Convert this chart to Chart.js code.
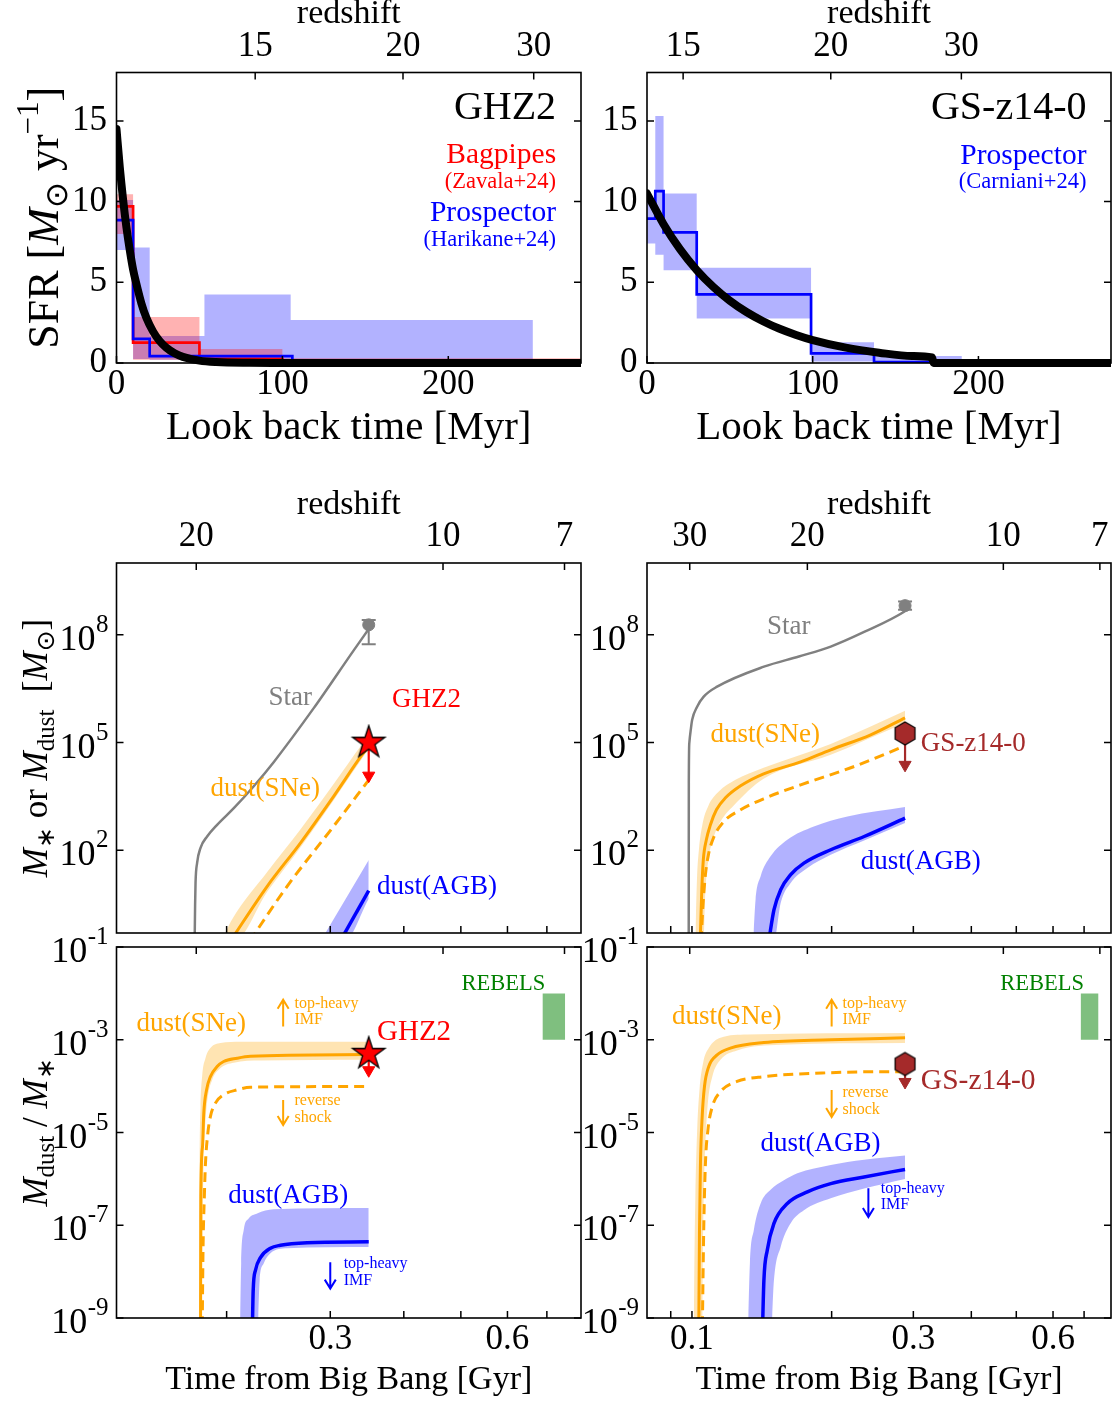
<!DOCTYPE html>
<html><head><meta charset="utf-8"><title>SFH and dust evolution of GHZ2 and GS-z14-0</title>
<script src="https://cdn.jsdelivr.net/npm/chart.js@4.4.1/dist/chart.umd.min.js"></script>
<style>
html,body{margin:0;padding:0;background:#fff;}
body{width:1117px;height:1403px;position:relative;overflow:hidden;}
canvas{position:absolute;}
</style></head><body>
<canvas id="cTL" width="600" height="460" style="left:0px;top:0px;width:600px;height:460px"></canvas>
<canvas id="cTR" width="537" height="460" style="left:580px;top:0px;width:537px;height:460px"></canvas>
<canvas id="cML" width="600" height="480" style="left:0px;top:470px;width:600px;height:480px"></canvas>
<canvas id="cMR" width="537" height="480" style="left:580px;top:470px;width:537px;height:480px"></canvas>
<canvas id="cBL" width="600" height="503" style="left:0px;top:900px;width:600px;height:503px"></canvas>
<canvas id="cBR" width="537" height="503" style="left:580px;top:900px;width:537px;height:503px"></canvas>
<script>
// ===================== DATA =====================
// --- top panels: star-formation histories (look-back time [Myr], SFR [Msun/yr]) ---
const sfrTimeTicks = [0, 100, 200];
const sfrTimeLabels = ['0', '100', '200'];
const sfrTicks = [0, 5, 10, 15];
const sfrTickLabels = ['0', '5', '10', '15'];
const zLabelsSfr = ['15', '20', '30'];
const zTimesGhz2 = [83.6, 172.7, 251.5];
const zTimesGs = [21.8, 110.9, 189.7];

const ghz2ModelT   = [0, 2, 4, 6, 8, 10, 12, 15, 18, 22, 26, 30, 35, 40, 50, 60, 80, 100, 150, 200, 280];
const ghz2ModelSfr = [14.5, 12.1, 10.1, 8.4, 7.0, 5.8, 4.9, 3.7, 2.8, 1.96, 1.36, 0.95, 0.6, 0.38, 0.15, 0.06, 0.01, 0, 0, 0, 0];

const bagEdges = [0, 10, 50, 100, 280];
const bagLow   = [8.0, 0.2, 0, 0];
const bagHigh  = [10.45, 2.85, 0.87, 0.3];
const bagStepEdges = [0, 10, 50, 100, 280];
const bagStepSfr   = [9.7, 1.26, 0.25, 0.1];

const hariEdges = [0, 10, 20, 53, 105, 251];
const hariLow   = [7.0, 0.25, 0.2, 0.2, 0.1];
const hariHigh  = [10.1, 7.16, 1.67, 4.25, 2.66];
const hariStepEdges = [0, 10, 20, 106, 280];
const hariStepSfr   = [8.85, 1.5, 0.43, 0.03];

const gsModelT   = [0, 10, 20, 30, 40, 50, 60, 70, 80, 90, 100, 120, 140, 160, 172, 173, 280];
const gsModelSfr = [10.5, 8.6, 7.04, 5.76, 4.72, 3.86, 3.16, 2.59, 2.12, 1.74, 1.42, 0.95, 0.64, 0.43, 0.34, 0, 0];

const carnEdges = [0, 5, 10, 30, 99, 137, 190];
const carnLow   = [7.4, 6.7, 5.75, 2.75, 0.1, 0];
const carnHigh  = [10.0, 15.3, 10.5, 5.9, 1.28, 0.43];
const carnStepEdges = [0, 5, 10, 30, 99, 137, 280];
const carnStepSfr   = [8.95, 10.65, 8.1, 4.25, 0.6, 0.05];

// --- middle/bottom axes ---
const gyrTicks  = [0.09, 0.1, 0.2, 0.3, 0.4, 0.5, 0.6, 0.7];
const gyrLabels = ['', '0.1', '', '0.3', '', '', '0.6', ''];
const zTimesLeft  = [0.1776, 0.4663, 0.750];
const zLabelsLeft = ['20', '10', '7'];
const zTimesRight  = [0.0989, 0.1773, 0.4689, 0.757];
const zLabelsRight = ['30', '20', '10', '7'];
const massTicks = [1e2, 1e5, 1e8];
const massExps  = ['2', '5', '8'];
const ratioTicks = [1e-1, 1e-3, 1e-5, 1e-7, 1e-9];
const ratioExps  = ['-1', '-3', '-5', '-7', '-9'];

// --- GHZ2 masses (time [Gyr], mass [Msun]) ---
const ghz2StarT = [0.1765, 0.1768, 0.1771, 0.1782, 0.1806, 0.1853, 0.1927, 0.2057, 0.2224, 0.2404, 0.2812, 0.3288, 0.3487];
const ghz2StarM = [0.3, 3, 12.5, 45, 118, 243, 515, 1490, 6100, 2.85e4, 9.1e5, 3.7e7, 1.45e8];
const ghz2SneT = [0.2030, 0.2344, 0.2669, 0.3040, 0.3398, 0.3487];
const ghz2SneM = [0.3, 10, 160, 3200, 4.6e4, 8e4];
const ghz2SneHiT = [0.1960, 0.2044, 0.2344, 0.2669, 0.3040, 0.3398, 0.3487];
const ghz2SneHiM = [0.3, 1.2, 25, 380, 7000, 9e4, 1.5e5];
const ghz2SneLoT = [0.1960, 0.2060, 0.2344, 0.2669, 0.3040, 0.3398, 0.3487];
const ghz2SneLoM = [0.3, 0.3, 7, 120, 2500, 3.6e4, 6.5e4];
const ghz2RsT = [0.2190, 0.2534, 0.3040, 0.3487];
const ghz2RsM = [0.3, 10, 470, 9100];
const ghz2AgbT = [0.3120, 0.3487];
const ghz2AgbM = [0.3, 7.6];
const ghz2AgbHiT = [0.2890, 0.3487];
const ghz2AgbHiM = [0.3, 54];
const ghz2AgbLoT = [0.2890, 0.3170, 0.3487];
const ghz2AgbLoM = [0.3, 0.3, 4.5];

// --- GS-z14-0 masses ---
const gsStarT = [0.09840, 0.09845, 0.0987, 0.0995, 0.1001, 0.1026, 0.1060, 0.1133, 0.1429, 0.1700, 0.1991, 0.2350, 0.2866, 0.2879];
const gsStarM = [0.3, 7600, 9.8e4, 2.5e5, 4.3e5, 1e6, 1.9e6, 3.6e6, 1.3e7, 2.5e7, 4.7e7, 1.2e8, 4.4e8, 4.6e8];
const gsSneT = [0.1042, 0.1050, 0.1058, 0.1074, 0.1096, 0.1129, 0.1181, 0.1273, 0.1427, 0.1715, 0.1991, 0.2428, 0.2879];
const gsSneM = [0.3, 8, 55, 197, 515, 1345, 2900, 6270, 1.35e4, 2.9e4, 6.3e4, 1.65e5, 4.9e5];
const gsSneHiT = [0.1017, 0.1025, 0.1035, 0.1053, 0.1085, 0.1141, 0.1241, 0.1427, 0.1991, 0.2879];
const gsSneHiM = [0.3, 15, 104, 515, 1740, 4270, 9200, 1.99e4, 9.2e4, 7.7e5];
const gsSneLoT = [0.1017, 0.1058, 0.1069, 0.1085, 0.1113, 0.1152, 0.1229, 0.1427, 0.1991, 0.2879];
const gsSneLoM = [0.3, 0.3, 8, 55, 224, 624, 1740, 9800, 4.57e4, 3.56e5];
const gsRsT = [0.1046, 0.1058, 0.1069, 0.1085, 0.1113, 0.1170, 0.1273, 0.1427, 0.1715, 0.2199, 0.2879];
const gsRsM = [0.3, 4.2, 21, 75, 224, 624, 1345, 2730, 6680, 1.99e4, 8.1e4];
const gsAgbT = [0.1464, 0.1502, 0.1553, 0.1632, 0.1743, 0.1991, 0.2350, 0.2879];
const gsAgbM = [0.3, 2.2, 8, 21, 44, 104, 243, 790];
const gsAgbHiT = [0.1355, 0.1371, 0.1406, 0.1477, 0.1605, 0.1831, 0.2163, 0.2879];
const gsAgbHiM = [0.3, 4.2, 19, 68, 197, 462, 877, 1600];
const gsAgbLoT = [0.1355, 0.1502, 0.1553, 0.1632, 0.1773, 0.1991, 0.2350, 0.2879];
const gsAgbLoM = [0.3, 0.3, 3.4, 12.3, 32, 75, 188, 574];

// --- GHZ2 dust-to-stellar mass ratio ---
const ghz2SneRT = [0.1806, 0.1807, 0.1808, 0.1820, 0.1829, 0.1849, 0.1877, 0.1927, 0.1977, 0.2084, 0.2195, 0.3487];
const ghz2SneR  = [3e-10, 1.5e-8, 4.1e-7, 4.9e-6, 2.6e-5, 8.3e-5, 1.6e-4, 2.65e-4, 3.4e-4, 4.0e-4, 4.4e-4, 4.8e-4];
const ghz2SneRHiT = [0.1794, 0.1797, 0.1799, 0.1806, 0.1817, 0.1841, 0.1877, 0.1953, 0.2113, 0.3487];
const ghz2SneRHi  = [3e-10, 7.8e-8, 2.1e-6, 3.6e-5, 1.6e-4, 4.0e-4, 6.6e-4, 8.5e-4, 9.1e-4, 9.1e-4];
const ghz2SneRLoT = [0.1794, 0.1808, 0.1820, 0.1827, 0.1840, 0.1858, 0.1890, 0.1953, 0.2057, 0.2283, 0.3487];
const ghz2SneRLo  = [3e-10, 3e-10, 7.8e-8, 2.1e-6, 1.6e-5, 5.9e-5, 1.36e-4, 2.45e-4, 3.2e-4, 3.55e-4, 3.7e-4];
const ghz2RsRT = [0.1817, 0.1824, 0.1833, 0.1841, 0.1858, 0.1877, 0.1914, 0.1977, 0.2084, 0.2195, 0.3487];
const ghz2RsR  = [3e-10, 3.4e-8, 4.1e-7, 2.1e-6, 9.5e-6, 2.2e-5, 4.3e-5, 6.5e-5, 8.3e-5, 9.5e-5, 9.8e-5];
const ghz2AgbRT = [0.2210, 0.2219, 0.2239, 0.2283, 0.2374, 0.2468, 0.2740, 0.3487];
const ghz2AgbR  = [3e-10, 3.9e-9, 1.07e-8, 2e-8, 3.2e-8, 3.7e-8, 4.2e-8, 4.4e-8];
const ghz2AgbRHiT = [0.2106, 0.2117, 0.2138, 0.2180, 0.2253, 0.2404, 0.3487];
const ghz2AgbRHi  = [3e-10, 1.5e-8, 7.8e-8, 1.4e-7, 1.8e-7, 2.2e-7, 2.35e-7];
const ghz2AgbRLoT = [0.2106, 0.2253, 0.2276, 0.2312, 0.2374, 0.2534, 0.3487];
const ghz2AgbRLo  = [3e-10, 3e-10, 6.5e-9, 1.5e-8, 2.5e-8, 3.2e-8, 3.4e-8];

// --- GS-z14-0 dust-to-stellar mass ratio ---
const gsSneRT = [0.1034, 0.1038, 0.1043, 0.1052, 0.1064, 0.1087, 0.1133, 0.1210, 0.1429, 0.1991, 0.2879];
const gsSneR  = [3e-10, 7.8e-8, 2.1e-6, 2.2e-5, 9.8e-5, 2.65e-4, 4.7e-4, 6.6e-4, 8.7e-4, 1e-3, 1.1e-3];
const gsSneRHiT = [0.1009, 0.1012, 0.1017, 0.1026, 0.1038, 0.1057, 0.1087, 0.1152, 0.1315, 0.2879];
const gsSneRHi  = [3e-10, 1.5e-8, 4.1e-7, 1.1e-5, 8.3e-5, 3.2e-4, 6.6e-4, 1.1e-3, 1.29e-3, 1.4e-3];
const gsSneRLoT = [0.1009, 0.1052, 0.1055, 0.1060, 0.1069, 0.1082, 0.1106, 0.1152, 0.1251, 0.1553, 0.2879];
const gsSneRLo  = [3e-10, 3e-10, 1.5e-8, 4.1e-7, 5.9e-6, 4.3e-5, 1.6e-4, 3.7e-4, 5.9e-4, 7.8e-4, 8.5e-4];
const gsRsRT = [0.1052, 0.1060, 0.1069, 0.1082, 0.1106, 0.1152, 0.1251, 0.1429, 0.1991, 0.2773, 0.2879];
const gsRsR  = [3e-10, 7.8e-8, 2.1e-6, 1.1e-5, 3.6e-5, 7.6e-5, 1.26e-4, 1.6e-4, 1.95e-4, 2.05e-4, 2.05e-4];
const gsAgbRT = [0.1417, 0.1429, 0.1453, 0.1502, 0.1605, 0.1773, 0.1991, 0.2350, 0.2879];
const gsAgbR  = [3e-10, 6.5e-9, 2.9e-8, 1.1e-7, 2.95e-7, 5.25e-7, 7.9e-7, 1.1e-6, 1.6e-6];
const gsAgbRHiT = [0.1319, 0.1333, 0.1359, 0.1406, 0.1477, 0.1578, 0.1687, 0.1991, 0.2350, 0.2879];
const gsAgbRHi  = [3e-10, 1.5e-8, 7.8e-8, 2.95e-7, 5.8e-7, 9.3e-7, 1.32e-6, 2e-6, 2.6e-6, 3.2e-6];
const gsAgbRLoT = [0.1319, 0.1477, 0.1502, 0.1553, 0.1632, 0.1743, 0.1991, 0.2350, 0.2879];
const gsAgbRLo  = [3e-10, 3e-10, 6.5e-9, 3.4e-8, 1.1e-7, 2.1e-7, 3.8e-7, 6.2e-7, 1.0e-6];

// --- observations ---
const ghz2ObsT = [0.3487];
const ghz2StarObs = [1.9e8];
const ghz2StarErr = [5.5e7, 2.6e8];
const ghz2DustLim = [1e5, 1.2e4];
const ghz2RatioLim = [5e-4, 2.2e-4];
const gsObsT = [0.2879];
const gsStarObs = [6.5e8];
const gsStarErr = [5e8, 8.5e8];
const gsDustLim = [1.8e5, 2.4e4];
const gsRatioLim = [3e-4, 1.23e-4];
const rebelsT = [0.688, 0.752];
const rebelsRatio = [1e-3, 1e-2];

// ===================== STYLE / HELPERS =====================
const SERIF = "'Liberation Serif','Times New Roman',Times,serif";
const ORANGE = '#ffa500', BLUE = '#0000ff', RED = '#ff0000', GRAY = '#808080', BROWN = '#a52a2a', GREEN = '#008000';
const ORANGE_BAND = 'rgba(255,165,0,0.3)', BLUE_BAND = 'rgba(0,0,255,0.3)', RED_BAND = 'rgba(255,0,0,0.3)', GREEN_BOX = 'rgba(0,128,0,0.5)';
Chart.defaults.font.family = SERIF;
Chart.defaults.color = '#000';

const P = (xs, ys) => xs.map((x, i) => ({x: x, y: ys[i]}));
function base(o) {
  return Object.assign({xAxisID: 'x', yAxisID: 'y', pointRadius: 0, pointHoverRadius: 0, borderWidth: 0,
    borderColor: 'rgba(0,0,0,0)', backgroundColor: 'rgba(0,0,0,0)', fill: false, clip: 0}, o);
}
function curve(xs, ys, color, w, extra) {
  return base(Object.assign({data: P(xs, ys), borderColor: color, borderWidth: w, cubicInterpolationMode: 'monotone', order: 4}, extra || {}));
}
function band(hx, hy, lx, ly, color, order) {
  return [
    base({data: P(hx, hy), backgroundColor: color, fill: '+1', cubicInterpolationMode: 'monotone', order: order || 9}),
    base({data: P(lx, ly), cubicInterpolationMode: 'monotone', order: order || 9})
  ];
}
function box(xr, yr, color, order) {
  return [
    base({data: P(xr, [yr[1], yr[1]]), backgroundColor: color, fill: '+1', order: order}),
    base({data: P(xr, [yr[0], yr[0]]), order: order})
  ];
}
function stepLine(edges, vals, color, w, order) {
  return base({data: P(edges, vals.concat([vals[vals.length - 1]])), stepped: 'before', borderColor: color, borderWidth: w, order: order});
}
function stepBand(edges, lo, hi, color, order) {
  return [
    base({data: P(edges, hi.concat([hi[hi.length - 1]])), stepped: 'before', backgroundColor: color, fill: '+1', order: order}),
    base({data: P(edges, lo.concat([lo[lo.length - 1]])), stepped: 'before', order: order})
  ];
}
function marker(t, v, style, extra) {
  return base(Object.assign({data: P(t, v), showLine: false, pointStyle: style, pointRadius: 10, order: 0}, extra || {}));
}
function errBar(t, lohi, color) {
  return base({data: P([t[0], t[0]], lohi), borderColor: color, borderWidth: 2, pointStyle: 'line', pointRadius: 7,
    pointBorderColor: color, pointBorderWidth: 2, order: 3});
}
function limitArrow(t, lim, color) {
  return [
    base({data: P([t[0], t[0]], lim), borderColor: color, borderWidth: 2.2, order: 2}),
    base({data: P(t, [lim[1]]), showLine: false, pointStyle: 'triangle', pointRotation: 180, pointRadius: 7,
      pointBackgroundColor: color, pointBorderColor: color, pointBorderWidth: 1, order: 2})
  ];
}
function starImg(R, fill) {
  const c = document.createElement('canvas'); const s = Math.ceil(2 * R + 4); c.width = s; c.height = s;
  const g = c.getContext('2d'); g.translate(s / 2, s / 2); g.beginPath();
  for (let k = 0; k < 10; k++) { const r = (k % 2) ? R * 0.382 : R; const a = -Math.PI / 2 + k * Math.PI / 5; g.lineTo(r * Math.cos(a), r * Math.sin(a)); }
  g.closePath(); g.fillStyle = fill; g.fill(); g.lineWidth = 1.3; g.strokeStyle = '#000'; g.stroke();
  return c;
}
function hexImg(R, fill) {
  const c = document.createElement('canvas'); const s = Math.ceil(2 * R + 4); c.width = s; c.height = s;
  const g = c.getContext('2d'); g.translate(s / 2, s / 2); g.beginPath();
  for (let k = 0; k < 6; k++) { const a = -Math.PI / 2 + k * Math.PI / 3; g.lineTo(R * Math.cos(a), R * Math.sin(a)); }
  g.closePath(); g.fillStyle = fill; g.fill(); g.lineWidth = 1.2; g.strokeStyle = '#000'; g.stroke();
  return c;
}
const STAR = starImg(17, RED);
const HEX = hexImg(11.5, BROWN);

function axisX(o) {
  return {
    type: o.type, position: o.position, min: o.min, max: o.max,
    grid: {display: false, drawTicks: false, tickLength: 0}, border: {display: false},
    afterFit: function (s) { s.height = o.height; },
    afterBuildTicks: function (s) { s.ticks = o.ticks.filter(v => v >= o.min && v <= o.max).map(v => ({value: v})); },
    ticks: {display: !!o.labels, autoSkip: false, maxRotation: 0, minRotation: 0, padding: o.labelPad || 0,
      font: {size: o.labelSize || 35, family: SERIF}, color: '#000',
      callback: function (v) { if (!o.labels) return ''; const i = o.ticks.indexOf(v); return i >= 0 ? o.labels[i] : ''; }},
    title: o.title ? {display: true, text: o.title, color: '#000', font: {size: o.titleSize, family: SERIF, lineHeight: 0.8},
      padding: o.position === 'top' ? {top: o.titlePad, bottom: 0} : {top: 0, bottom: o.titlePad}} : {display: false}
  };
}
function axisY(o) {
  return {
    type: o.type, position: 'left', min: o.min, max: o.max,
    grid: {display: false, drawTicks: false, tickLength: 0}, border: {display: false},
    afterFit: function (s) { s.width = o.width; },
    afterBuildTicks: function (s) { s.ticks = o.ticks.map(v => ({value: v})); },
    ticks: {display: !!o.labels, autoSkip: false, padding: o.labelPad || 0, font: {size: 35, family: SERIF}, color: '#000',
      callback: function (v) { if (!o.labels) return ''; const i = o.ticks.indexOf(v); return i >= 0 ? o.labels[i] : ''; }},
    title: {display: false}
  };
}

// ---------- decoration plugin (frame, inward ticks, log labels, rich titles, annotations) ----------
const DECO = {};
function richTitle(ctx, runs, bx, cy, size) {
  const fontOf = r => (r.it ? 'italic ' : '') + Math.round((r.sc || 1) * size) + 'px ' + (r.fam || SERIF);
  ctx.save(); ctx.translate(bx, cy); ctx.rotate(-Math.PI / 2);
  let total = 0; const widths = runs.map(r => { ctx.font = fontOf(r); const w = ctx.measureText(r.t).width; total += w; return w; });
  let x = -total / 2; ctx.textAlign = 'left'; ctx.textBaseline = 'alphabetic'; ctx.fillStyle = '#000';
  runs.forEach((r, i) => { ctx.font = fontOf(r); ctx.fillText(r.t, x, (r.dy || 0) * size); x += widths[i]; });
  ctx.restore();
}
const decoPlugin = {
  id: 'deco',
  afterDatasetsDraw(chart) {
    const d = DECO[chart.canvas.id]; if (!d) return;
    const ctx = chart.ctx, a = chart.chartArea, xs = chart.scales.x, ys = chart.scales.y;
    ctx.save();
    (d.texts || []).forEach(t => {
      ctx.font = (t.size) + 'px ' + SERIF; ctx.fillStyle = t.color; ctx.textAlign = t.align || 'left'; ctx.textBaseline = 'middle';
      ctx.fillText(t.text, xs.getPixelForValue(t.x), ys.getPixelForValue(t.y));
    });
    (d.arrows || []).forEach(r => {
      const x = xs.getPixelForValue(r.x), y0 = ys.getPixelForValue(r.y0), y1 = ys.getPixelForValue(r.y1);
      const dir = Math.sign(y1 - y0);
      ctx.strokeStyle = r.color; ctx.lineWidth = 2; ctx.lineCap = 'butt'; ctx.lineJoin = 'miter';
      ctx.beginPath(); ctx.moveTo(x, y0); ctx.lineTo(x, y1);
      ctx.moveTo(x - 5.5, y1 - dir * 9); ctx.lineTo(x, y1); ctx.lineTo(x + 5.5, y1 - dir * 9); ctx.stroke();
    });
    ctx.strokeStyle = '#000'; ctx.lineWidth = 1.6; ctx.strokeRect(a.left, a.top, a.right - a.left, a.bottom - a.top);
    const TL = 7; ctx.lineWidth = 1.5; ctx.beginPath();
    const inX = v => v >= xs.min && v <= xs.max, inY = v => v >= ys.min && v <= ys.max;
    (d.xBottom || []).filter(inX).forEach(v => { const p = xs.getPixelForValue(v); ctx.moveTo(p, a.bottom); ctx.lineTo(p, a.bottom - TL); });
    (d.xTop || []).filter(inX).forEach(v => { const p = xs.getPixelForValue(v); ctx.moveTo(p, a.top); ctx.lineTo(p, a.top + TL); });
    (d.yTicks || []).filter(inY).forEach(v => { const p = ys.getPixelForValue(v); ctx.moveTo(a.left, p); ctx.lineTo(a.left + TL, p); ctx.moveTo(a.right, p); ctx.lineTo(a.right - TL, p); });
    ctx.stroke();
    if (d.logTicks) {
      d.logTicks.forEach((v, i) => {
        const p = ys.getPixelForValue(v); const e = d.logExps[i];
        ctx.fillStyle = '#000'; ctx.textBaseline = 'alphabetic'; ctx.textAlign = 'right';
        ctx.font = '25px ' + SERIF; const ew = ctx.measureText(e).width;
        const right = a.left - 8;
        ctx.fillText(e, right, p - 3);
        ctx.font = '36px ' + SERIF; ctx.fillText('10', right - ew - 0.5, p + 15);
      });
    }
    if (d.yTitle) richTitle(ctx, d.yTitle.runs, a.left - d.yTitle.dx, (a.top + a.bottom) / 2, d.yTitle.size);
    ctx.restore();
  }
};
Chart.register(decoPlugin);

function makeChart(id, scales, padRight, datasets, deco) {
  DECO[id] = deco;
  return new Chart(document.getElementById(id), {
    type: 'line',
    data: {datasets: datasets},
    options: {
      responsive: false, maintainAspectRatio: false, animation: false, devicePixelRatio: 1, events: [],
      layout: {padding: {left: 0, top: 0, bottom: 0, right: padRight}, autoPadding: false},
      plugins: {legend: {display: false}, tooltip: {enabled: false}, title: {display: false}},
      scales: scales
    }
  });
}

const sfrTitle = [{t: 'SFR ['}, {t: 'M', it: 1}, {t: '\u2299', sc: 0.7, dy: 0.2, fam: "'DejaVu Sans',sans-serif"}, {t: ' yr'}, {t: '\u22121', sc: 0.7, dy: -0.45}, {t: ']'}];
const massTitle = [{t: 'M', it: 1}, {t: '\u2217', sc: 0.7, dy: 0.2}, {t: ' or '}, {t: 'M', it: 1}, {t: 'dust', sc: 0.7, dy: 0.22},
  {t: '  ['}, {t: 'M', it: 1}, {t: '\u2299', sc: 0.7, dy: 0.2, fam: "'DejaVu Sans',sans-serif"}, {t: ']'}];
const ratioTitle = [{t: 'M', it: 1}, {t: 'dust', sc: 0.7, dy: 0.22}, {t: ' / '}, {t: 'M', it: 1}, {t: '\u2217', sc: 0.7, dy: 0.2}];

// ===================== TOP LEFT: GHZ2 SFH =====================
makeChart('cTL', {
  x: axisX({type: 'linear', position: 'bottom', min: 0, max: 280, ticks: sfrTimeTicks, labels: sfrTimeLabels, labelPad: 1, title: 'Look back time [Myr]', titleSize: 41, titlePad: 15.6, height: 97}),
  x2: axisX({type: 'linear', position: 'top', min: 0, max: 280, ticks: zTimesGhz2, labels: zLabelsSfr, labelPad: 5, title: 'redshift', titleSize: 34, titlePad: 0.4, height: 72.5}),
  y: axisY({type: 'linear', min: 0, max: 18, ticks: sfrTicks, labels: sfrTickLabels, labelPad: 9.5, width: 116.5})
}, 19, [
  curve(ghz2ModelT, ghz2ModelSfr, '#000', 8, {order: 1, clip: {left: 0, top: 0, right: 0, bottom: 4}, borderCapStyle: 'round'}),
  stepLine(hariStepEdges, hariStepSfr, BLUE, 2.7, 2),
  stepLine(bagStepEdges, bagStepSfr, RED, 2.7, 3),
  ...stepBand(bagEdges, bagLow, bagHigh, RED_BAND, 8),
  ...stepBand(hariEdges, hariLow, hariHigh, BLUE_BAND, 9)
], {
  xBottom: sfrTimeTicks, xTop: zTimesGhz2, yTicks: sfrTicks,
  yTitle: {runs: sfrTitle, size: 44, dx: 58.5},
  texts: [
    {text: 'GHZ2', x: 265, y: 15.78, size: 40, color: '#000', align: 'right'},
    {text: 'Bagpipes', x: 265, y: 12.88, size: 29.5, color: RED, align: 'right'},
    {text: '(Zavala+24)', x: 265, y: 11.24, size: 22.5, color: RED, align: 'right'},
    {text: 'Prospector', x: 265, y: 9.29, size: 29.5, color: BLUE, align: 'right'},
    {text: '(Harikane+24)', x: 265, y: 7.59, size: 22.5, color: BLUE, align: 'right'}
  ]
});

// ===================== TOP RIGHT: GS-z14-0 SFH =====================
makeChart('cTR', {
  x: axisX({type: 'linear', position: 'bottom', min: 0, max: 280, ticks: sfrTimeTicks, labels: sfrTimeLabels, labelPad: 1, title: 'Look back time [Myr]', titleSize: 41, titlePad: 15.6, height: 97}),
  x2: axisX({type: 'linear', position: 'top', min: 0, max: 280, ticks: zTimesGs, labels: zLabelsSfr, labelPad: 5, title: 'redshift', titleSize: 34, titlePad: 0.4, height: 72.5}),
  y: axisY({type: 'linear', min: 0, max: 18, ticks: sfrTicks, labels: sfrTickLabels, labelPad: 9.5, width: 67})
}, 6, [
  curve(gsModelT, gsModelSfr, '#000', 8, {order: 1, clip: {left: 0, top: 0, right: 0, bottom: 4}, borderCapStyle: 'round'}),
  stepLine(carnStepEdges, carnStepSfr, BLUE, 2.7, 2),
  ...stepBand(carnEdges, carnLow, carnHigh, BLUE_BAND, 9)
], {
  xBottom: sfrTimeTicks, xTop: zTimesGs, yTicks: sfrTicks,
  texts: [
    {text: 'GS-z14-0', x: 265.2, y: 15.78, size: 40, color: '#000', align: 'right'},
    {text: 'Prospector', x: 265.2, y: 12.82, size: 29.5, color: BLUE, align: 'right'},
    {text: '(Carniani+24)', x: 265.2, y: 11.24, size: 22.5, color: BLUE, align: 'right'}
  ]
});

// ===================== MIDDLE LEFT: GHZ2 masses =====================
makeChart('cML', {
  x: axisX({type: 'logarithmic', position: 'bottom', min: 0.13, max: 0.8, ticks: gyrTicks, labels: null, height: 17}),
  x2: axisX({type: 'logarithmic', position: 'top', min: 0.13, max: 0.8, ticks: zTimesLeft, labels: zLabelsLeft, labelPad: 5.5, title: 'redshift', titleSize: 34, titlePad: 21.4, height: 93}),
  y: axisY({type: 'logarithmic', min: 0.5, max: 1e10, ticks: massTicks, labels: null, width: 116.5})
}, 19, [
  ...band(ghz2SneHiT, ghz2SneHiM, ghz2SneLoT, ghz2SneLoM, ORANGE_BAND, 9),
  ...band(ghz2AgbHiT, ghz2AgbHiM, ghz2AgbLoT, ghz2AgbLoM, BLUE_BAND, 9),
  curve(ghz2StarT, ghz2StarM, GRAY, 2.5, {order: 5}),
  curve(ghz2SneT, ghz2SneM, ORANGE, 3),
  curve(ghz2RsT, ghz2RsM, ORANGE, 3, {borderDash: [10, 6]}),
  curve(ghz2AgbT, ghz2AgbM, BLUE, 3.5),
  errBar(ghz2ObsT, ghz2StarErr, GRAY),
  marker(ghz2ObsT, ghz2StarObs, 'circle', {pointRadius: 6, pointBackgroundColor: GRAY, pointBorderColor: GRAY, pointBorderWidth: 1, order: 2}),
  ...limitArrow(ghz2ObsT, ghz2DustLim, RED),
  marker(ghz2ObsT, [ghz2DustLim[0]], STAR)
], {
  xBottom: gyrTicks, xTop: zTimesLeft, yTicks: massTicks, logTicks: massTicks, logExps: massExps,
  yTitle: {runs: massTitle, size: 35, dx: 70},
  texts: [
    {text: 'Star', x: 0.2566, y: 1.77e6, size: 27, color: GRAY, align: 'center'},
    {text: 'GHZ2', x: 0.382, y: 1.55e6, size: 27, color: RED},
    {text: 'dust(SNe)', x: 0.1877, y: 5200, size: 27, color: ORANGE},
    {text: 'dust(AGB)', x: 0.3602, y: 9.7, size: 27, color: BLUE}
  ]
});

// ===================== MIDDLE RIGHT: GS-z14-0 masses =====================
makeChart('cMR', {
  x: axisX({type: 'logarithmic', position: 'bottom', min: 0.08, max: 0.8, ticks: gyrTicks, labels: null, height: 17}),
  x2: axisX({type: 'logarithmic', position: 'top', min: 0.08, max: 0.8, ticks: zTimesRight, labels: zLabelsRight, labelPad: 5.5, title: 'redshift', titleSize: 34, titlePad: 21.4, height: 93}),
  y: axisY({type: 'logarithmic', min: 0.5, max: 1e10, ticks: massTicks, labels: null, width: 67})
}, 6, [
  ...band(gsSneHiT, gsSneHiM, gsSneLoT, gsSneLoM, ORANGE_BAND, 9),
  ...band(gsAgbHiT, gsAgbHiM, gsAgbLoT, gsAgbLoM, BLUE_BAND, 9),
  curve(gsStarT, gsStarM, GRAY, 2.5, {order: 5}),
  curve(gsSneT, gsSneM, ORANGE, 3),
  curve(gsRsT, gsRsM, ORANGE, 3, {borderDash: [10, 6]}),
  curve(gsAgbT, gsAgbM, BLUE, 3.5),
  errBar(gsObsT, gsStarErr, GRAY),
  marker(gsObsT, gsStarObs, 'circle', {pointRadius: 6, pointBackgroundColor: GRAY, pointBorderColor: GRAY, pointBorderWidth: 1, order: 2}),
  ...limitArrow(gsObsT, gsDustLim, BROWN),
  marker(gsObsT, [gsDustLim[0]], HEX)
], {
  xBottom: gyrTicks, xTop: zTimesRight, yTicks: massTicks, logTicks: massTicks, logExps: massExps,
  texts: [
    {text: 'Star', x: 0.1616, y: 1.7e8, size: 27, color: GRAY, align: 'center'},
    {text: 'dust(SNe)', x: 0.1096, y: 1.65e5, size: 27, color: ORANGE},
    {text: 'GS-z14-0', x: 0.3114, y: 9.4e4, size: 27, color: BROWN},
    {text: 'dust(AGB)', x: 0.231, y: 49, size: 27, color: BLUE}
  ]
});

// ===================== BOTTOM LEFT: GHZ2 dust-to-stellar ratio =====================
makeChart('cBL', {
  x: axisX({type: 'logarithmic', position: 'bottom', min: 0.13, max: 0.8, ticks: gyrTicks, labels: gyrLabels, labelPad: 1, title: 'Time from Big Bang [Gyr]', titleSize: 34, titlePad: 9.4, height: 85}),
  x2: axisX({type: 'logarithmic', position: 'top', min: 0.13, max: 0.8, ticks: zTimesLeft, labels: null, height: 47}),
  y: axisY({type: 'logarithmic', min: 1e-9, max: 1e-1, ticks: ratioTicks, labels: null, width: 116.5})
}, 19, [
  ...box(rebelsT, rebelsRatio, GREEN_BOX, 10),
  ...band(ghz2SneRHiT, ghz2SneRHi, ghz2SneRLoT, ghz2SneRLo, ORANGE_BAND, 9),
  ...band(ghz2AgbRHiT, ghz2AgbRHi, ghz2AgbRLoT, ghz2AgbRLo, BLUE_BAND, 9),
  curve(ghz2SneRT, ghz2SneR, ORANGE, 3),
  curve(ghz2RsRT, ghz2RsR, ORANGE, 3, {borderDash: [10, 6]}),
  curve(ghz2AgbRT, ghz2AgbR, BLUE, 3.5),
  ...limitArrow(ghz2ObsT, ghz2RatioLim, RED),
  marker(ghz2ObsT, [ghz2RatioLim[0]], STAR)
], {
  xBottom: gyrTicks, xTop: zTimesLeft, yTicks: ratioTicks, logTicks: ratioTicks, logExps: ratioExps,
  yTitle: {runs: ratioTitle, size: 35, dx: 70},
  texts: [
    {text: 'dust(SNe)', x: 0.1406, y: 2.2e-3, size: 27, color: ORANGE},
    {text: 'top-heavy', x: 0.2608, y: 6.0e-3, size: 16, color: ORANGE},
    {text: 'IMF', x: 0.2608, y: 2.7e-3, size: 16, color: ORANGE},
    {text: 'reverse', x: 0.2608, y: 4.8e-5, size: 16, color: ORANGE},
    {text: 'shock', x: 0.2608, y: 2.06e-5, size: 16, color: ORANGE},
    {text: 'GHZ2', x: 0.3602, y: 1.45e-3, size: 29, color: RED},
    {text: 'REBELS', x: 0.6956, y: 1.55e-2, size: 22.5, color: GREEN, align: 'right'},
    {text: 'dust(AGB)', x: 0.2012, y: 4.2e-7, size: 27, color: BLUE},
    {text: 'top-heavy', x: 0.3161, y: 1.44e-8, size: 16, color: BLUE},
    {text: 'IMF', x: 0.3161, y: 6.5e-9, size: 16, color: BLUE}
  ],
  arrows: [
    {x: 0.2495, y0: 1.94e-3, y1: 7.3e-3, color: ORANGE},
    {x: 0.2495, y0: 5.05e-5, y1: 1.45e-5, color: ORANGE},
    {x: 0.3, y0: 1.6e-8, y1: 4.3e-9, color: BLUE}
  ]
});

// ===================== BOTTOM RIGHT: GS-z14-0 dust-to-stellar ratio =====================
makeChart('cBR', {
  x: axisX({type: 'logarithmic', position: 'bottom', min: 0.08, max: 0.8, ticks: gyrTicks, labels: gyrLabels, labelPad: 1, title: 'Time from Big Bang [Gyr]', titleSize: 34, titlePad: 9.4, height: 85}),
  x2: axisX({type: 'logarithmic', position: 'top', min: 0.08, max: 0.8, ticks: zTimesRight, labels: null, height: 47}),
  y: axisY({type: 'logarithmic', min: 1e-9, max: 1e-1, ticks: ratioTicks, labels: null, width: 67})
}, 6, [
  ...box(rebelsT, rebelsRatio, GREEN_BOX, 10),
  ...band(gsSneRHiT, gsSneRHi, gsSneRLoT, gsSneRLo, ORANGE_BAND, 9),
  ...band(gsAgbRHiT, gsAgbRHi, gsAgbRLoT, gsAgbRLo, BLUE_BAND, 9),
  curve(gsSneRT, gsSneR, ORANGE, 3),
  curve(gsRsRT, gsRsR, ORANGE, 3, {borderDash: [10, 6]}),
  curve(gsAgbRT, gsAgbR, BLUE, 3.5),
  ...limitArrow(gsObsT, gsRatioLim, BROWN),
  marker(gsObsT, [gsRatioLim[0]], HEX)
], {
  xBottom: gyrTicks, xTop: zTimesRight, yTicks: ratioTicks, logTicks: ratioTicks, logExps: ratioExps,
  texts: [
    {text: 'dust(SNe)', x: 0.0906, y: 3.14e-3, size: 27, color: ORANGE},
    {text: 'top-heavy', x: 0.211, y: 6.0e-3, size: 16, color: ORANGE},
    {text: 'IMF', x: 0.211, y: 2.7e-3, size: 16, color: ORANGE},
    {text: 'reverse', x: 0.211, y: 7.1e-5, size: 16, color: ORANGE},
    {text: 'shock', x: 0.211, y: 3.06e-5, size: 16, color: ORANGE},
    {text: 'GS-z14-0', x: 0.3114, y: 1.25e-4, size: 29.5, color: BROWN},
    {text: 'REBELS', x: 0.6996, y: 1.55e-2, size: 22.5, color: GREEN, align: 'right'},
    {text: 'dust(AGB)', x: 0.1405, y: 5.6e-6, size: 27, color: BLUE},
    {text: 'top-heavy', x: 0.2552, y: 6.0e-7, size: 16, color: BLUE},
    {text: 'IMF', x: 0.2552, y: 2.7e-7, size: 16, color: BLUE}
  ],
  arrows: [
    {x: 0.2, y0: 1.94e-3, y1: 7.3e-3, color: ORANGE},
    {x: 0.2, y0: 8.3e-5, y1: 2.16e-5, color: ORANGE},
    {x: 0.240, y0: 6.3e-7, y1: 1.5e-7, color: BLUE}
  ]
});
</script>
</body></html>
